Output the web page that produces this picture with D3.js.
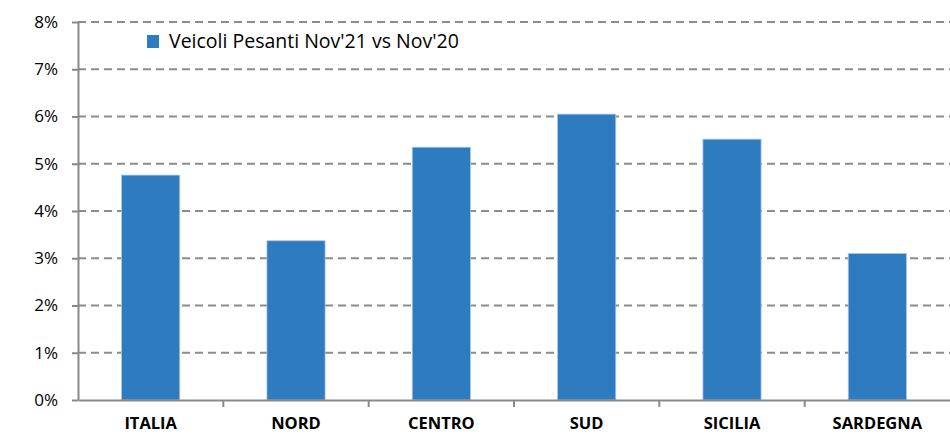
<!DOCTYPE html>
<html lang="it">
<head>
<meta charset="utf-8">
<script src="https://d3js.org/d3.v7.min.js"></script>
<style>
  body { margin: 0; background: #fff; }
  .axis--y text { font-family: "Open Sans", sans-serif; font-size: 17px; fill: #000; }
  .axis--x text { font-family: "Open Sans", sans-serif; font-size: 16.5px; font-weight: bold; fill: #000; }
  .axis path, .axis line { stroke: #898989; stroke-width: 2px; }
  .grid line { stroke: #8c8c8c; stroke-width: 2px; stroke-dasharray: 8 5; }
  .legend text { font-family: "Open Sans", sans-serif; font-size: 19.5px; fill: #000; }
</style>
</head>
<body>
<div id="chart"></div>
<script>
var categories = ["ITALIA", "NORD", "CENTRO", "SUD", "SICILIA", "SARDEGNA"];
var values = [4.76, 3.37, 5.35, 6.05, 5.52, 3.10];
var yTicks = [0, 1, 2, 3, 4, 5, 6, 7, 8];
var seriesName = "Veicoli Pesanti Nov'21 vs Nov'20";

var W = 950, H = 435;
var margin = { top: 22, right: 0, bottom: 35, left: 78 },
    width = W - margin.left - margin.right,
    height = H - margin.top - margin.bottom;

var svg = d3.select("#chart").append("svg")
    .attr("width", W).attr("height", H)
  .append("g")
    .attr("transform", "translate(" + margin.left + "," + margin.top + ")");

var x = d3.scaleBand().domain(categories).range([0, width]).paddingInner(0.6).paddingOuter(0.3);
var xb = d3.scaleBand().domain(categories).range([0, width]);
var y = d3.scaleLinear().domain([0, 8]).range([height, 0]);

// gridlines
svg.append("g").attr("class", "grid")
  .selectAll("line").data(yTicks.slice(1)).enter().append("line")
    .attr("x1", 0).attr("x2", width)
    .attr("y1", function(d) { return y(d); })
    .attr("y2", function(d) { return y(d); });

// bars
svg.append("g").selectAll("rect").data(values).enter().append("rect")
    .attr("x", function(d, i) { return x(categories[i]); })
    .attr("y", function(d) { return y(d); })
    .attr("width", x.bandwidth())
    .attr("height", function(d) { return height - y(d); })
    .attr("fill", "#2f7bbf")
    .attr("stroke", "#a9c4e4")
    .attr("stroke-width", 0.8);

// y axis
var yAxis = svg.append("g").attr("class", "axis axis--y")
    .call(d3.axisLeft(y).tickValues(yTicks).tickSize(6).tickSizeOuter(0)
      .tickFormat(function(d) { return d + "%"; }));
yAxis.selectAll("text").attr("x", -20);

// x axis
var xAxis = svg.append("g").attr("class", "axis axis--x")
    .attr("transform", "translate(0," + height + ")")
    .call(d3.axisBottom(xb).tickSize(0).tickSizeOuter(0));
xAxis.selectAll(".tick text").attr("y", 29).attr("dy", 0);
xAxis.selectAll(".tick line").remove();
xAxis.selectAll("line.sep").data(categories.slice(1)).enter().append("line")
    .attr("class", "sep")
    .attr("x1", function(d) { return xb(d); }).attr("x2", function(d) { return xb(d); })
    .attr("y1", 0).attr("y2", 7);

// legend
var legend = svg.append("g").attr("class", "legend").attr("transform", "translate(69,13)");
legend.append("rect").attr("width", 12).attr("height", 13).attr("fill", "#2f7bbf");
legend.append("text").attr("x", 22).attr("y", 6.5).attr("dy", "0.35em").text(seriesName);
</script>
</body>
</html>
